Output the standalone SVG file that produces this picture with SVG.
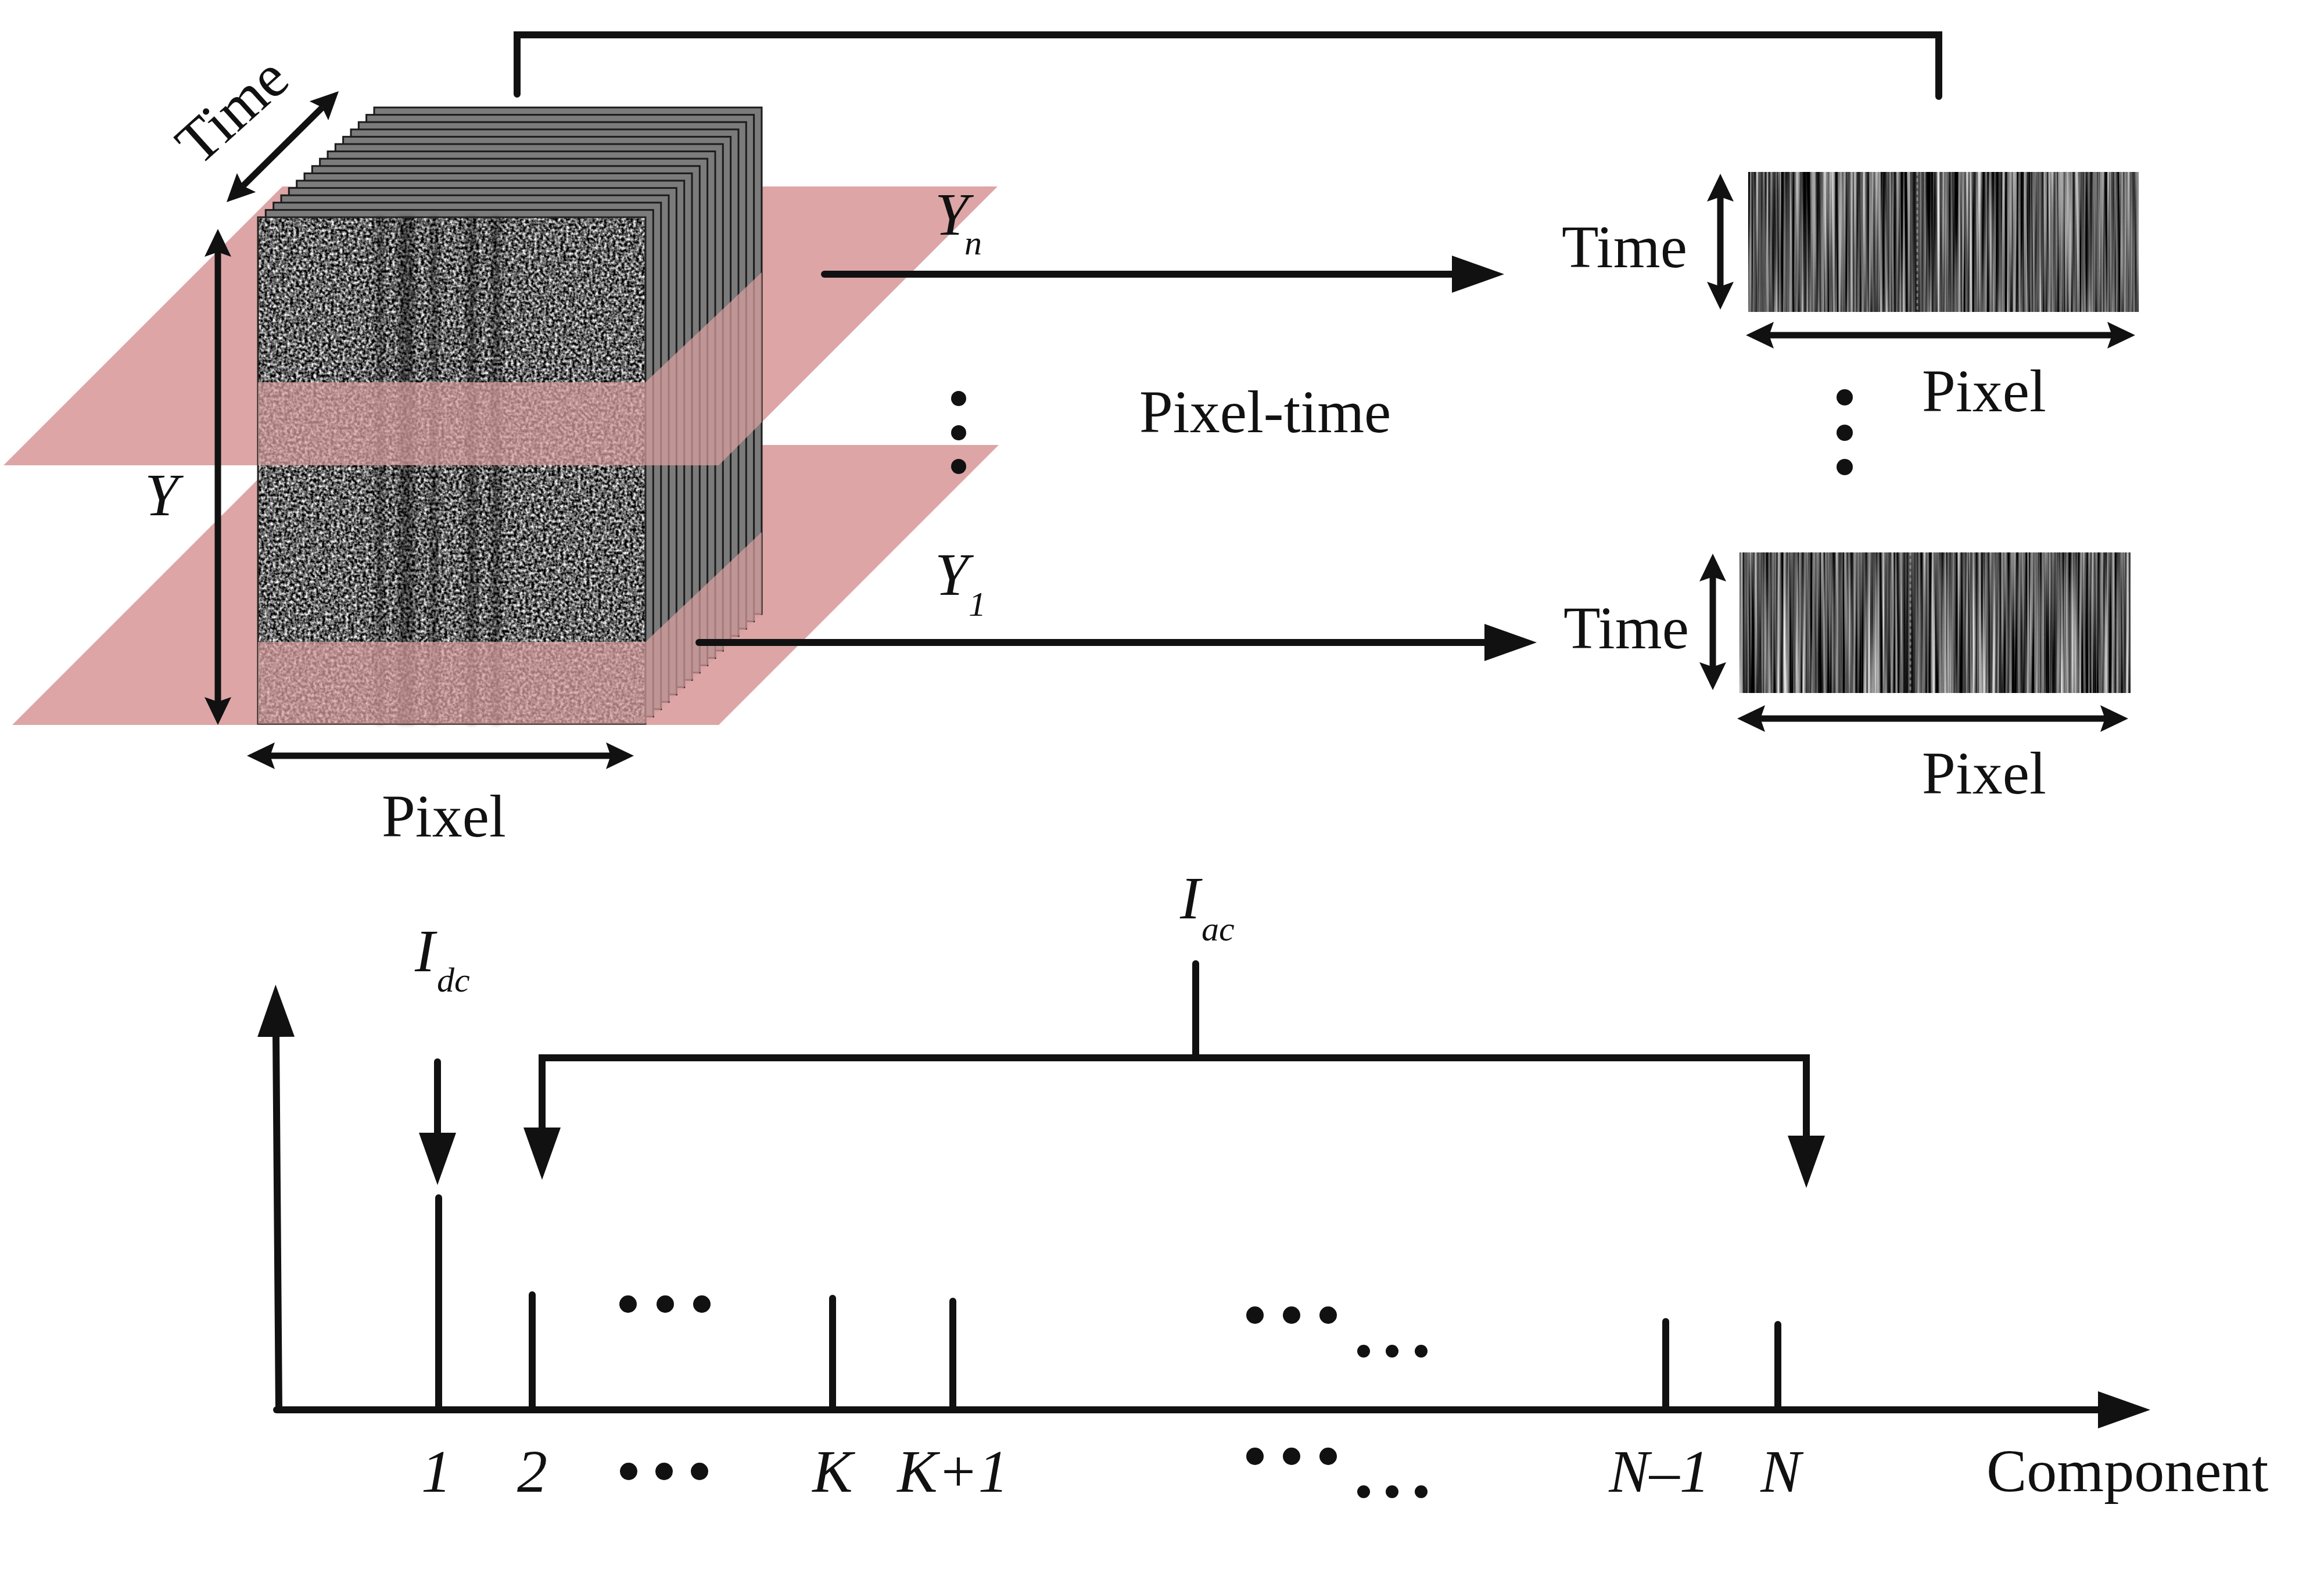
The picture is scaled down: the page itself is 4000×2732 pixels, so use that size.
<svg xmlns="http://www.w3.org/2000/svg" xmlns:xlink="http://www.w3.org/1999/xlink" width="4000" height="2732" viewBox="0 0 4000 2732">
<defs>
<style>
text{font-family:"Liberation Serif","Times New Roman",serif;fill:#111;font-size:104px}
.it{font-style:italic}
.sub{font-size:60px;font-style:italic}
.ln{stroke:#111;stroke-width:12;fill:none;stroke-linecap:round}
.dl{stroke:#111;stroke-width:11;fill:none}
.frame{fill:#7b7b7b;stroke:#1c1c1c;stroke-width:3}
.plane{fill:#dda5a5}
.ovl{fill:#d9a0a0;opacity:0.72}
.dot{fill:#111}
.band{fill:#000;opacity:0.4;filter:url(#soft)}
</style>
<marker id="ah" viewBox="0 -32 90 64" refX="5" refY="0" markerWidth="90" markerHeight="64" orient="auto" markerUnits="userSpaceOnUse"><path d="M0,-32 L90,0 L0,32 Z" fill="#111"/></marker>
<marker id="dh" viewBox="0 -23 48 46" refX="8" refY="0" markerWidth="48" markerHeight="46" orient="auto-start-reverse" markerUnits="userSpaceOnUse"><path d="M0,-23 L48,0 L0,23 L8,0 Z" fill="#111"/></marker>
<filter id="noise" filterUnits="userSpaceOnUse" x="444" y="374" width="667" height="872" color-interpolation-filters="sRGB">
<feTurbulence type="fractalNoise" baseFrequency="0.2" numOctaves="2" seed="3"/>
<feColorMatrix type="matrix" values="2.0 0 0 0 -0.6  2.0 0 0 0 -0.6  2.0 0 0 0 -0.6  0 0 0 0 1"/>
</filter>
<filter id="stripes" x="0" y="0" width="1" height="1" color-interpolation-filters="sRGB">
<feTurbulence type="fractalNoise" baseFrequency="0.2 0.002" numOctaves="3" seed="11"/>
<feColorMatrix type="matrix" values="1.7 0 0 0 -0.5  1.7 0 0 0 -0.5  1.7 0 0 0 -0.5  0 0 0 0 1"/>
</filter>
<filter id="soft" x="-50%" y="-5%" width="200%" height="110%"><feGaussianBlur stdDeviation="4"/></filter>
<rect id="fr" width="667" height="872" class="frame"/>
</defs>
<rect width="4000" height="2732" fill="#fff"/>

<g id="planes-back">
<polygon class="plane" points="6,801 1237,801 1717,321 486,321"/>
<polygon class="plane" points="21,1248 1237,1248 1719,766 503,766"/>
</g>

<g id="stack">
<use href="#fr" x="644" y="185"/>
<use href="#fr" x="630.6" y="197.6"/>
<use href="#fr" x="617.3" y="210.2"/>
<use href="#fr" x="604" y="222.8"/>
<use href="#fr" x="590.6" y="235.4"/>
<use href="#fr" x="577.3" y="248"/>
<use href="#fr" x="564" y="260.6"/>
<use href="#fr" x="550.6" y="273.2"/>
<use href="#fr" x="537.3" y="285.8"/>
<use href="#fr" x="524" y="298.4"/>
<use href="#fr" x="510.7" y="311"/>
<use href="#fr" x="497.3" y="323.6"/>
<use href="#fr" x="484" y="336.2"/>
<use href="#fr" x="470.7" y="348.8"/>
<use href="#fr" x="457.3" y="361.4"/>
<rect x="444" y="374" width="667" height="872" fill="#777" filter="url(#noise)"/>
<rect class="band" x="648" y="374" width="12" height="872" opacity="0.25"/>
<rect class="band" x="686" y="374" width="27" height="872"/>
<rect class="band" x="741" y="374" width="12" height="872" opacity="0.2"/>
<rect class="band" x="804" y="374" width="16" height="872"/>
<rect class="band" x="846" y="374" width="15" height="872"/>
<rect x="444" y="374" width="667" height="872" fill="none" stroke="#222" stroke-width="3"/>
</g>

<g id="planes-front">
<polygon class="ovl" points="444,658 1111,658 1311,469 1311,727 1237,801 444,801"/>
<polygon class="ovl" points="444,1105 1111,1105 1311,916 1311,1057 1111,1246 444,1246"/>
</g>

<g id="kymo-top">
<rect x="3009" y="296" width="672" height="241" fill="#444" filter="url(#stripes)"/>
<rect x="3288" y="296" width="24" height="241" fill="#222" opacity="0.5"/>
<line x1="3300" y1="296" x2="3300" y2="537" stroke="#aaa" stroke-width="3" stroke-dasharray="6 5" opacity="0.6"/>
</g>
<g id="kymo-bottom">
<rect x="2994" y="951" width="673" height="242" fill="#444" filter="url(#stripes)"/>
<rect x="3276" y="951" width="24" height="242" fill="#222" opacity="0.5"/>
<line x1="3288" y1="951" x2="3288" y2="1193" stroke="#aaa" stroke-width="3" stroke-dasharray="6 5" opacity="0.6"/>
</g>

<g id="connectors">
<path class="ln" d="M890,162 V60 H3337 V166" stroke-linecap="round" stroke-linejoin="miter"/>
<line class="ln" x1="1419" y1="472" x2="2504" y2="472" marker-end="url(#ah)"/>
<line class="ln" x1="1203" y1="1106" x2="2560" y2="1106" marker-end="url(#ah)"/>
<line class="dl" x1="418.4" y1="319.9" x2="554.6" y2="185.1" marker-start="url(#dh)" marker-end="url(#dh)"/>
<line class="dl" x1="375" y1="434" x2="375" y2="1208" marker-start="url(#dh)" marker-end="url(#dh)"/>
<line class="dl" x1="465" y1="1301" x2="1051" y2="1301" marker-start="url(#dh)" marker-end="url(#dh)"/>
<line class="dl" x1="2961" y1="339" x2="2961" y2="493" marker-start="url(#dh)" marker-end="url(#dh)"/>
<line class="dl" x1="2948" y1="993" x2="2948" y2="1148" marker-start="url(#dh)" marker-end="url(#dh)"/>
<line class="dl" x1="3045" y1="577" x2="3635" y2="577" marker-start="url(#dh)" marker-end="url(#dh)"/>
<line class="dl" x1="3030" y1="1237" x2="3623" y2="1237" marker-start="url(#dh)" marker-end="url(#dh)"/>
</g>

<g id="dots-top">
<circle class="dot" cx="1650" cy="686" r="13"/>
<circle class="dot" cx="1650" cy="745" r="13"/>
<circle class="dot" cx="1650" cy="803" r="13"/>
<circle class="dot" cx="3175" cy="684" r="14"/>
<circle class="dot" cx="3175" cy="745" r="14"/>
<circle class="dot" cx="3175" cy="804" r="14"/>
</g>

<g id="labels-top">
<text transform="translate(399,190) rotate(-42)" x="0" y="35" text-anchor="middle">Time</text>
<text class="it" x="249" y="887">Y</text>
<text x="657" y="1440">Pixel</text>
<text class="it" x="1609" y="404">Y</text><text class="sub" x="1660" y="438">n</text>
<text class="it" x="1609" y="1024">Y</text><text class="sub" x="1667" y="1060">1</text>
<text x="1961" y="744">Pixel-time</text>
<text x="2688" y="460">Time</text>
<text x="2691" y="1116">Time</text>
<text x="3308" y="708">Pixel</text>
<text x="3308" y="1366">Pixel</text>
</g>

<g id="chart">
<line class="ln" x1="480" y1="2427" x2="475" y2="1780" marker-end="url(#ah)" stroke-linecap="butt"/>
<line class="ln" x1="476" y1="2427" x2="3616" y2="2427" marker-end="url(#ah)" stroke-linecap="butt"/>
<line class="ln" x1="755" y1="2427" x2="755" y2="2062"/>
<line class="ln" x1="916" y1="2427" x2="916" y2="2229"/>
<line class="ln" x1="1433" y1="2427" x2="1433" y2="2235"/>
<line class="ln" x1="1640" y1="2427" x2="1640" y2="2240"/>
<line class="ln" x1="2867" y1="2427" x2="2867" y2="2275"/>
<line class="ln" x1="3060" y1="2427" x2="3060" y2="2280"/>
</g>

<g id="chart-arrows">
<line class="ln" x1="753" y1="1828" x2="753" y2="1955" marker-end="url(#ah)"/>
<path class="ln" d="M933,1946 V1821 H3109 V1960" stroke-linecap="butt"/>
<line class="ln" x1="933" y1="1900" x2="933" y2="1946" marker-end="url(#ah)" stroke-linecap="butt"/>
<line class="ln" x1="3109" y1="1900" x2="3109" y2="1960" marker-end="url(#ah)" stroke-linecap="butt"/>
<line class="ln" x1="2058" y1="1659" x2="2058" y2="1821"/>
</g>

<g id="chart-dots">
<circle class="dot" cx="1081" cy="2245" r="15"/>
<circle class="dot" cx="1145" cy="2245" r="15"/>
<circle class="dot" cx="1208" cy="2245" r="15"/>
<circle class="dot" cx="2160" cy="2264" r="15"/>
<circle class="dot" cx="2223" cy="2264" r="15"/>
<circle class="dot" cx="2286" cy="2264" r="15"/>
<circle class="dot" cx="2347" cy="2326" r="11"/>
<circle class="dot" cx="2396" cy="2326" r="11"/>
<circle class="dot" cx="2446" cy="2326" r="11"/>
<circle class="dot" cx="1082" cy="2533" r="15"/>
<circle class="dot" cx="1143" cy="2533" r="15"/>
<circle class="dot" cx="1204" cy="2533" r="15"/>
<circle class="dot" cx="2160" cy="2507" r="15"/>
<circle class="dot" cx="2223" cy="2507" r="15"/>
<circle class="dot" cx="2286" cy="2507" r="15"/>
<circle class="dot" cx="2347" cy="2568" r="11"/>
<circle class="dot" cx="2396" cy="2568" r="11"/>
<circle class="dot" cx="2446" cy="2568" r="11"/>
</g>

<g id="chart-labels">
<text class="it" x="714" y="1672">I</text><text class="sub" x="752" y="1707">dc</text>
<text class="it" x="2031" y="1581">I</text><text class="sub" x="2068" y="1619">ac</text>
<text class="it" x="751" y="2568" text-anchor="middle">1</text>
<text class="it" x="916" y="2568" text-anchor="middle">2</text>
<text class="it" x="1433" y="2568" text-anchor="middle">K</text>
<text class="it" x="1640" y="2568" text-anchor="middle">K+1</text>
<text class="it" x="2856" y="2568" text-anchor="middle">N–1</text>
<text class="it" x="3065" y="2568" text-anchor="middle">N</text>
<text x="3419" y="2567">Component</text>
</g>
</svg>
